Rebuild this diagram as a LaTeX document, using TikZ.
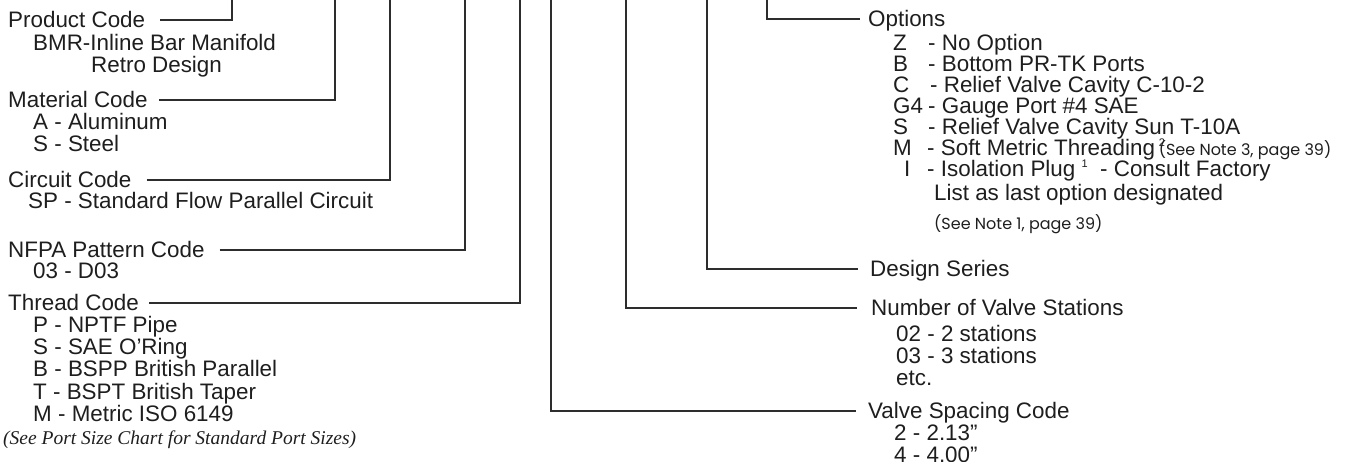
\documentclass[tikz,border=0pt]{standalone}
\usepackage{fontspec}
\setmainfont{Liberation Sans}
\newfontfamily\notefont{Poppins}
\newfontfamily\chartfont{Liberation Serif}
\usetikzlibrary{positioning}
\definecolor{leadgray}{RGB}{45,45,45}
\definecolor{inkgray}{RGB}{30,30,30}
\newcommand{\pagenote}[1]{{\notefont\fontsize{16}{16}\selectfont #1}}
\newcommand{\supmark}[1]{\raisebox{9pt}{\fontsize{11}{11}\selectfont #1}}

\tikzset{
  lead/.style={line width=1.1pt,draw=leadgray},
  hdr/.style={anchor=base west,inner sep=0pt,text height=16pt,text depth=2pt,
    text=inkgray,font=\fontsize{22.4}{22.4}\selectfont},
  itm/.style={anchor=base west,inner sep=0pt,text=inkgray,
    font=\fontsize{22.4}{22.4}\selectfont},
}

\begin{document}
\begin{tikzpicture}[x=1pt,y=-1pt]
  \useasboundingbox (0,0) rectangle (1353,461);
  % left column: codes read from the left
  \node[hdr] (prodcode) at (8,27) {Product Code};
  \node[itm] (prodbmr) at (33,50) {BMR-Inline Bar Manifold};
  \node[itm] (prodretro) at (91,72) {Retro Design};
  \node[hdr] (matcode) at (8,107) {Material Code};
  \node[itm] (matal) at (33,129) {A - Aluminum};
  \node[itm] (matst) at (33,151) {S - Steel};
  \node[hdr] (circcode) at (8,187) {Circuit Code};
  \node[itm] (circsp) at (28,208) {SP - Standard Flow Parallel Circuit};
  \node[hdr] (nfpacode) at (8,257) {NFPA Pattern Code};
  \node[itm] (nfpad) at (33,278) {03 - D03};
  \node[hdr] (threadcode) at (8,310) {Thread Code};
  \foreach \t [count=\i] in {P - NPTF Pipe, S - SAE O’Ring,
      B - BSPP British Parallel, T - BSPT British Taper, M - Metric ISO 6149}
    \node[itm] (thread\i) at (33,310+22.3*\i) {\t};
  \node[itm,font=\chartfont\itshape\fontsize{19.5}{19.5}\selectfont] (portnote)
    at (3,444) {(See Port Size Chart for Standard Port Sizes)};

  % right column
  \node[hdr] (optcode) at (868,26) {Options};
  \foreach \c/\cx/\dx/\t [count=\i] in {Z/893/928/{- No Option},
      B/893/928/{- Bottom PR-TK Ports},
      C/893/930/{- Relief Valve Cavity C-10-2},
      G4/893/928/{- Gauge Port \#4 SAE},
      S/893/928/{- Relief Valve Cavity Sun T-10A},
      M/893/927/{- Soft Metric Threading\,\rlap{\supmark{2}}\pagenote{(See Note 3, page 39)}},
      I/904/927/{- Isolation Plug \supmark{1}\ \ - Consult Factory}} {
    \node[itm] (opt\i) at (\cx,28.9+21.1*\i) {\c};
    \node[itm] (optd\i) at (\dx,28.9+21.1*\i) {\t};
  }
  \node[itm] (optlast) at (934,200) {List as last option designated};
  \node[itm] (optnote) at (934,229) {\pagenote{(See Note 1, page 39)}};
  \node[hdr] (seriescode) at (870,276) {Design Series};
  \node[hdr] (stationcode) at (871,315) {Number of Valve Stations};
  \node[itm] (station2) at (896,341) {02 - 2 stations};
  \node[itm] (station3) at (896,363) {03 - 3 stations};
  \node[itm] (stationetc) at (896,385) {etc.};
  \node[hdr] (spacecode) at (868,418) {Valve Spacing Code};
  \node[itm] (space2) at (894,440) {2 - 2.13”};
  \node[itm] (space4) at (894,462) {4 - 4.00”};

  % leaders up to the model code
  \coordinate (prodtop) at (232,0);
  \coordinate (mattop) at (335,0);
  \coordinate (circtop) at (390,0);
  \coordinate (nfpatop) at (465,0);
  \coordinate (threadtop) at (520,0);
  \coordinate (spacetop) at (551,0);
  \coordinate (stationtop) at (626,0);
  \coordinate (seriestop) at (707,0);
  \coordinate (opttop) at (767,0);
  \draw[lead] ([xshift=15pt]prodcode.east) -| (prodtop);
  \draw[lead] ([xshift=11pt]matcode.east) -| (mattop);
  \draw[lead] ([xshift=15pt]circcode.east) -| (circtop);
  \draw[lead] ([xshift=15pt]nfpacode.east) -| (nfpatop);
  \draw[lead] ([xshift=10pt]threadcode.east) -| (threadtop);
  \draw[lead] (spacetop) |- ([xshift=-12pt]spacecode.west);
  \draw[lead] (stationtop) |- ([xshift=-14pt]stationcode.west);
  \draw[lead] (seriestop) |- ([xshift=-12pt]seriescode.west);
  \draw[lead] (opttop) |- ([xshift=-8pt]optcode.west);
\end{tikzpicture}
\end{document}
